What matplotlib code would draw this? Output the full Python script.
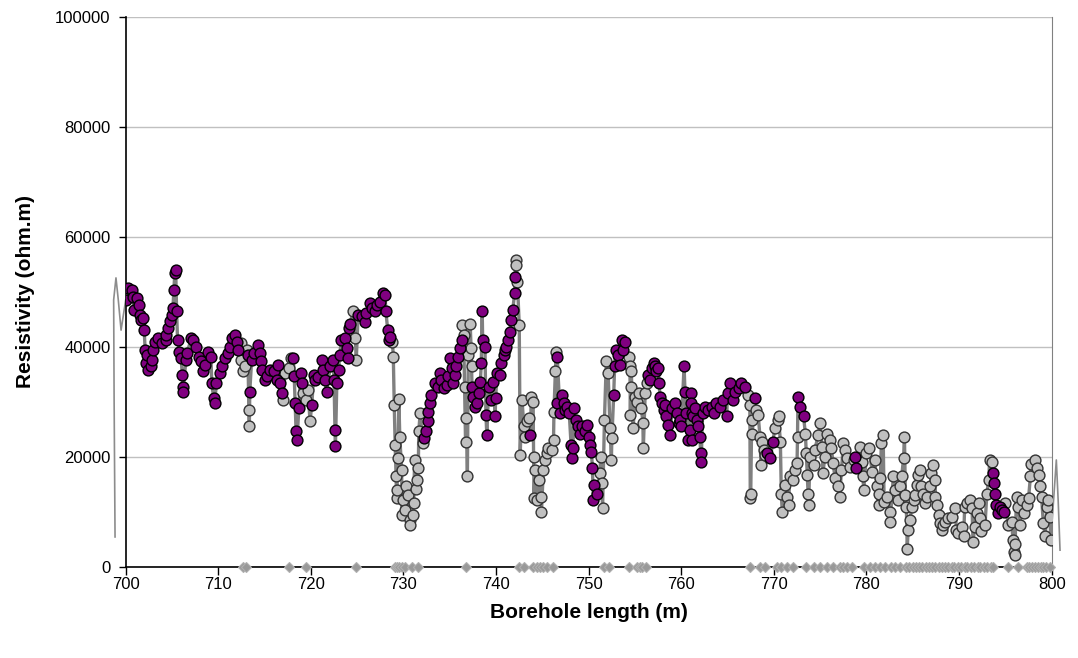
import numpy as np
import matplotlib
matplotlib.use("Agg")
import matplotlib.pyplot as plt

plt.rcParams['font.family'] = ['Liberation Sans', 'DejaVu Sans']

# resistivity readings (kohm.m) split by flag; line joins all of them in depth order
purple_depth = [
    700.0, 700.3, 700.65, 700.8, 700.9, 701.2, 701.4, 701.5, 701.7, 701.9,
    702.0, 702.1, 702.2, 702.3, 702.4, 702.7, 702.8, 703.0, 703.2, 703.5,
    703.9, 704.3, 704.4, 704.6, 704.8, 705.0, 705.1, 705.2, 705.3, 705.4,
    705.5, 705.6, 705.8, 706.0, 706.1, 706.15, 706.2, 706.5, 706.6, 707.1,
    707.3, 707.6, 707.9, 708.1, 708.4, 708.6, 708.9, 709.2, 709.3, 709.5,
    709.6, 709.8, 710.2, 710.4, 710.7, 711.0, 711.3, 711.5, 711.8, 712.0,
    712.1, 713.2, 713.4, 713.6, 713.9, 714.3, 714.5, 714.6, 714.7, 715.0,
    715.3, 715.6, 716.0, 716.3, 716.5, 716.7, 716.9, 718.1, 718.2, 718.3,
    718.4, 718.5, 718.7, 718.9, 719.0, 720.1, 720.3, 720.4, 720.8, 721.2,
    721.3, 721.5, 721.7, 722.1, 722.4, 722.5, 722.6, 722.65, 722.8, 723.0,
    723.1, 723.3, 723.7, 723.9, 724.0, 724.1, 724.2, 725.1, 725.5, 725.8,
    726.0, 726.4, 726.6, 726.9, 727.1, 727.5, 727.8, 728.0, 728.1, 728.3,
    728.4, 728.5, 732.2, 732.4, 732.6, 732.7, 732.9, 733.0, 733.4, 733.7,
    733.9, 734.1, 734.4, 734.7, 734.8, 735.0, 735.2, 735.4, 735.6, 735.7,
    735.9, 736.1, 736.3, 737.4, 737.5, 737.7, 737.9, 738.1, 738.3, 738.4,
    738.5, 738.55, 738.8, 738.9, 739.0, 739.2, 739.5, 739.7, 739.9, 739.95,
    740.1, 740.4, 740.5, 740.8, 741.0, 741.1, 741.3, 741.5, 741.6, 741.8,
    742.0, 742.05, 743.7, 746.55, 746.6, 746.9, 747.1, 747.3, 747.4, 747.7,
    747.9, 748.1, 748.2, 748.3, 748.4, 748.6, 748.8, 749.1, 749.3, 749.6,
    749.8, 750.0, 750.1, 750.3, 750.4, 750.5, 750.6, 750.9, 752.7, 752.8,
    752.9, 753.2, 753.4, 753.6, 753.7, 753.9, 756.4, 756.6, 756.8, 757.0,
    757.2, 757.3, 757.5, 757.6, 757.7, 757.9, 758.1, 758.2, 758.4, 758.6,
    758.8, 759.0, 759.3, 759.5, 759.7, 759.9, 760.0, 760.3, 760.4, 760.5,
    760.7, 760.9, 761.0, 761.1, 761.15, 761.2, 761.3, 761.5, 761.7, 761.8,
    762.0, 762.1, 762.15, 762.3, 762.6, 762.9, 763.3, 763.5, 763.8, 764.2,
    764.5, 764.9, 765.0, 765.3, 765.6, 765.8, 766.2, 766.5, 766.9, 768.0,
    769.3, 769.6, 769.9, 772.6, 772.8, 773.2, 778.8, 778.9, 793.7, 793.8,
    793.9, 794.0, 794.2, 794.4, 794.6, 794.8,
]
purple_res = [
    48.5, 50.6, 50.3, 49.1, 46.7, 48.8, 47.6, 45.8, 44.9, 45.2,
    43.0, 39.4, 37.0, 38.5, 35.8, 36.4, 37.6, 39.4, 40.9, 41.5,
    40.6, 41.2, 42.1, 43.3, 44.6, 45.8, 47.0, 50.3, 53.3, 53.9,
    46.4, 41.2, 39.1, 37.9, 34.9, 32.7, 31.8, 37.6, 38.8, 41.5,
    41.2, 40.0, 38.2, 37.3, 35.5, 36.7, 39.1, 38.2, 33.3, 30.6,
    29.7, 33.3, 35.2, 36.4, 37.9, 38.8, 40.0, 41.5, 42.1, 40.9,
    39.4, 38.5, 31.8, 37.6, 38.8, 40.3, 38.8, 37.3, 35.8, 34.0,
    34.6, 35.8, 35.5, 34.0, 36.7, 33.3, 31.5, 37.9, 34.6, 29.7,
    24.6, 23.0, 28.8, 35.2, 33.3, 29.4, 34.9, 33.9, 34.5, 37.6,
    35.8, 34.0, 31.8, 36.4, 37.6, 33.9, 24.9, 21.9, 33.3, 35.8,
    38.5, 41.2, 41.5, 39.7, 37.9, 43.3, 44.2, 45.8, 45.5, 44.5,
    46.1, 47.9, 47.0, 46.4, 47.6, 48.2, 49.7, 49.4, 46.4, 43.0,
    41.2, 41.8, 23.3, 24.6, 26.4, 28.2, 29.7, 31.2, 33.3, 32.7,
    35.2, 33.9, 32.4, 33.0, 34.6, 37.9, 36.1, 33.3, 34.9, 36.4,
    38.2, 39.7, 41.2, 32.7, 30.9, 29.1, 29.7, 31.5, 33.6, 37.0,
    46.4, 41.2, 40.0, 27.6, 23.9, 32.7, 30.3, 33.6, 27.3, 30.6,
    35.2, 34.9, 37.0, 38.5, 39.4, 40.0, 41.2, 42.7, 44.9, 46.7,
    49.7, 52.7, 23.9, 29.7, 38.2, 27.9, 31.2, 29.7, 28.5, 29.1,
    27.9, 22.1, 19.7, 21.5, 28.8, 26.7, 25.5, 24.2, 25.5, 24.6,
    25.8, 23.6, 22.1, 20.9, 17.9, 12.1, 14.9, 13.3, 31.2, 36.4,
    39.4, 38.5, 36.7, 41.2, 39.4, 40.9, 34.9, 33.9, 36.1, 37.0,
    36.4, 35.5, 36.1, 33.3, 30.9, 29.7, 28.5, 29.4, 27.3, 25.8,
    23.9, 28.8, 29.7, 27.9, 26.1, 26.7, 25.5, 36.5, 31.8, 27.9,
    23.0, 24.8, 31.5, 29.7, 23.0, 27.9, 27.3, 28.8, 26.7, 25.5,
    23.6, 20.7, 19.1, 27.9, 29.1, 28.5, 29.1, 27.9, 29.7, 29.1,
    30.3, 27.3, 31.5, 33.3, 30.3, 31.8, 32.4, 33.3, 32.7, 30.6,
    20.6, 19.7, 22.7, 30.9, 29.1, 27.3, 20.0, 17.9, 17.1, 15.2,
    13.3, 11.2, 9.7, 10.9, 10.3, 10.0,
]

gray_depth = [
    712.4, 712.5, 712.7, 712.9, 713.1, 713.3, 713.35, 717.0, 717.2, 717.6,
    717.8, 719.2, 719.5, 719.7, 719.9, 724.6, 724.8, 724.9, 728.8, 728.9,
    729.0, 729.1, 729.2, 729.25, 729.3, 729.4, 729.5, 729.6, 729.8, 729.85,
    729.9, 730.2, 730.3, 730.5, 730.7, 730.75, 731.0, 731.1, 731.2, 731.4,
    731.5, 731.6, 731.65, 731.8, 732.1, 736.35, 736.5, 736.6, 736.7, 736.8,
    736.9, 737.0, 737.2, 737.3, 737.35, 742.1, 742.2, 742.3, 742.5, 742.6,
    742.8, 743.0, 743.1, 743.3, 743.5, 743.8, 744.0, 744.05, 744.1, 744.2,
    744.4, 744.6, 744.8, 744.9, 745.1, 745.3, 745.5, 745.6, 746.0, 746.2,
    746.25, 746.4, 746.5, 751.2, 751.3, 751.4, 751.5, 751.7, 751.9, 752.1,
    752.3, 752.45, 752.5, 754.3, 754.45, 754.5, 754.55, 754.6, 754.8, 755.0,
    755.2, 755.4, 755.7, 755.85, 755.9, 756.1, 756.3, 767.2, 767.4, 767.45,
    767.5, 767.6, 767.65, 768.05, 768.3, 768.5, 768.6, 768.7, 768.9, 769.0,
    770.1, 770.4, 770.5, 770.7, 770.8, 770.9, 771.2, 771.4, 771.6, 771.7,
    772.1, 772.3, 772.5, 772.55, 773.4, 773.5, 773.6, 773.7, 773.75, 773.9,
    774.3, 774.4, 774.8, 775.0, 775.2, 775.3, 775.5, 775.7, 776.1, 776.2,
    776.4, 776.6, 776.9, 777.1, 777.3, 777.5, 777.7, 777.9, 778.2, 778.6,
    779.3, 779.5, 779.6, 779.7, 780.0, 780.3, 780.6, 780.9, 781.1, 781.3,
    781.4, 781.5, 781.6, 781.8, 781.9, 782.2, 782.5, 782.55, 782.9, 783.1,
    783.4, 783.6, 783.8, 784.0, 784.1, 784.2, 784.3, 784.4, 784.5, 784.7,
    784.9, 785.1, 785.2, 785.4, 785.6, 785.8, 785.9, 786.1, 786.3, 786.5,
    786.9, 787.0, 787.2, 787.4, 787.45, 787.6, 787.8, 787.9, 788.1, 788.3,
    788.5, 788.8, 789.2, 789.6, 789.7, 789.9, 790.3, 790.5, 790.6, 790.8,
    791.2, 791.4, 791.5, 791.7, 791.9, 792.1, 792.3, 792.4, 792.8, 793.0,
    793.2, 793.3, 793.5, 795.0, 795.3, 795.7, 795.8, 795.9, 796.0, 796.05,
    796.2, 796.4, 796.6, 796.8, 797.0, 797.3, 797.5, 797.7, 797.8, 798.2,
    798.4, 798.6, 798.7, 798.9, 799.1, 799.3, 799.5, 799.6, 799.8, 799.9,
]
gray_res = [
    40.6, 37.6, 35.5, 36.5, 39.4, 28.5, 25.5, 30.3, 35.2, 36.1,
    37.9, 31.5, 30.3, 32.1, 26.4, 46.4, 41.5, 37.6, 40.9, 38.2,
    29.4, 22.1, 16.4, 12.4, 14.0, 19.7, 30.4, 23.6, 17.6, 9.4,
    12.1, 10.3, 14.6, 13.0, 8.5, 7.6, 9.4, 11.5, 19.4, 14.2,
    15.8, 17.9, 24.6, 27.9, 22.4, 43.9, 42.1, 32.7, 22.6, 27.0,
    16.5, 38.5, 44.2, 39.7, 36.4, 55.8, 54.9, 51.8, 43.9, 20.3,
    30.3, 25.5, 23.6, 26.4, 27.0, 30.9, 30.0, 20.0, 12.4, 17.6,
    12.1, 15.8, 12.7, 10.0, 17.6, 19.4, 20.6, 21.5, 21.2, 23.0,
    28.2, 35.5, 39.1, 17.0, 20.0, 15.2, 10.6, 26.7, 37.3, 35.2,
    25.2, 19.4, 23.3, 38.2, 36.4, 27.6, 32.7, 35.5, 25.2, 30.9,
    30.0, 31.5, 28.8, 26.1, 21.5, 31.5, 33.3, 31.2, 29.4, 12.4,
    13.3, 26.7, 24.2, 28.5, 27.6, 23.6, 18.5, 22.7, 21.2, 20.3,
    25.2, 26.7, 27.3, 22.7, 13.3, 10.0, 14.9, 12.7, 11.2, 16.4,
    15.8, 17.6, 18.8, 23.6, 24.2, 20.6, 16.7, 13.3, 11.2, 20.0,
    18.5, 21.2, 23.9, 26.1, 21.8, 17.0, 20.0, 24.2, 23.0, 21.5,
    18.8, 16.1, 14.6, 12.7, 17.6, 22.4, 21.2, 19.7, 18.2, 19.4,
    21.8, 19.1, 16.4, 14.0, 20.6, 21.5, 17.3, 19.4, 14.6, 11.2,
    13.3, 16.1, 22.4, 23.9, 11.8, 12.7, 10.0, 8.2, 16.4, 14.0,
    12.1, 14.6, 16.4, 19.7, 23.6, 13.0, 10.9, 3.3, 6.7, 8.5,
    10.9, 12.1, 13.0, 14.9, 16.7, 17.6, 14.6, 13.3, 11.5, 12.7,
    14.6, 17.0, 18.5, 15.8, 12.7, 11.2, 9.4, 7.9, 6.7, 7.6,
    8.2, 8.8, 9.1, 10.6, 6.7, 6.1, 7.3, 5.5, 10.9, 11.5,
    12.1, 10.6, 4.5, 7.3, 9.7, 11.5, 8.8, 6.4, 7.6, 13.3,
    15.8, 19.4, 19.1, 11.5, 7.6, 8.2, 4.9, 2.7, 2.1, 4.2,
    12.7, 10.9, 7.6, 12.1, 9.7, 11.2, 12.4, 16.4, 18.7, 19.4,
    17.9, 16.7, 14.6, 12.7, 7.9, 5.5, 10.9, 12.1, 9.1, 4.9,
]

# smoothing overshoot of the line beyond the axis limits
left_tail_depth = [700.0, 699.5, 699.2, 698.95, 698.7, 698.75, 698.85]
left_tail_res = [48.5, 43.0, 48.5, 52.5, 48.5, 30.3, 5.4]
right_tail_depth = [799.9, 800.2, 800.5, 800.7, 800.9]
right_tail_res = [4.9, 12.0, 19.4, 12.0, 3.0]

# flagged depths shown as diamonds on the zero line
flag_depth = [
    712.7, 713.0, 717.6, 719.5, 724.9, 729.1, 729.3, 729.5, 729.8, 730.2,
    730.9, 731.6, 736.8, 742.5, 743.0, 744.0, 744.4, 744.7, 745.1, 745.5,
    746.1, 751.6, 752.2, 754.4, 755.2, 755.5, 755.8, 756.2, 767.4, 768.5,
    769.0, 770.3, 770.8, 771.4, 772.1, 773.5, 774.3, 775.0, 775.7, 776.4,
    777.1, 777.5, 777.9, 778.4, 779.7, 780.4, 780.9, 781.5, 782.0, 782.6,
    783.1, 783.6, 784.3, 784.6, 785.0, 785.3, 785.7, 786.0, 786.4, 786.7,
    787.1, 787.4, 787.8, 788.1, 788.5, 788.8, 789.2, 789.5, 789.9, 790.2,
    790.6, 790.9, 791.3, 791.6, 792.0, 792.3, 792.7, 793.0, 793.4, 793.7,
    795.3, 796.4, 797.3, 797.6, 797.9, 798.2, 798.5, 798.8, 799.1, 799.4,
    799.8,
]

pd_ = np.array(purple_depth)
pr = np.array(purple_res) * 1000
gd = np.array(gray_depth)
gr = np.array(gray_res) * 1000
all_d = np.concatenate([pd_, gd])
all_r = np.concatenate([pr, gr])
order = np.argsort(all_d, kind='stable')
all_d = all_d[order]
all_r = all_r[order]

fig = plt.figure(figsize=(10.78, 6.58), dpi=100)
ax = fig.add_axes([0.1166, 0.1388, 0.859, 0.836])

ax.plot(np.array(left_tail_depth), np.array(left_tail_res) * 1000, color='#8c8c8c',
        lw=1.2, clip_on=False, zorder=2)
ax.plot(np.array(right_tail_depth), np.array(right_tail_res) * 1000, color='#8c8c8c',
        lw=1.2, clip_on=False, zorder=2)
ax.plot(all_d, all_r, color='#808080', lw=2.4, zorder=3)
ax.plot(gd, gr, ls='none', marker='o', ms=7.8, mfc='#c0c0c0', mec='#333333',
        mew=1.0, zorder=4)
ax.plot(pd_, pr, ls='none', marker='o', ms=7.8, mfc='#800080', mec='#000000',
        mew=1.0, zorder=5)
ax.plot(flag_depth, np.zeros(len(flag_depth)), color='#555555', lw=1.0, zorder=2)
ax.plot(flag_depth, np.zeros(len(flag_depth)), ls='none', marker='D', ms=5,
        mfc='#999999', mec='#b0b0b0', mew=0.8, zorder=6, clip_on=False)

ax.set_xlim(700, 800)
ax.set_ylim(0, 100000)
ax.set_xticks(np.arange(700, 801, 10))
ax.set_yticks(np.arange(0, 100001, 20000))
ax.tick_params(axis='both', labelsize=12, colors='black')
ax.tick_params(axis='x', direction='out', length=6, width=1, pad=1.5)
ax.tick_params(axis='y', direction='out', length=5, width=1, pad=6)
ax.grid(axis='y', color='#c0c0c0', lw=1)
ax.set_axisbelow(True)
ax.spines['top'].set_visible(False)
ax.spines['right'].set_color('#808080')
ax.spines['left'].set_linewidth(1.2)
ax.spines['bottom'].set_linewidth(1.2)

ax.set_xlabel('Borehole length (m)', fontsize=15, fontweight='bold', labelpad=8)
ax.set_ylabel('Resistivity (ohm.m)', fontsize=15, fontweight='bold', labelpad=14)

fig.savefig('out.png', dpi=100)
